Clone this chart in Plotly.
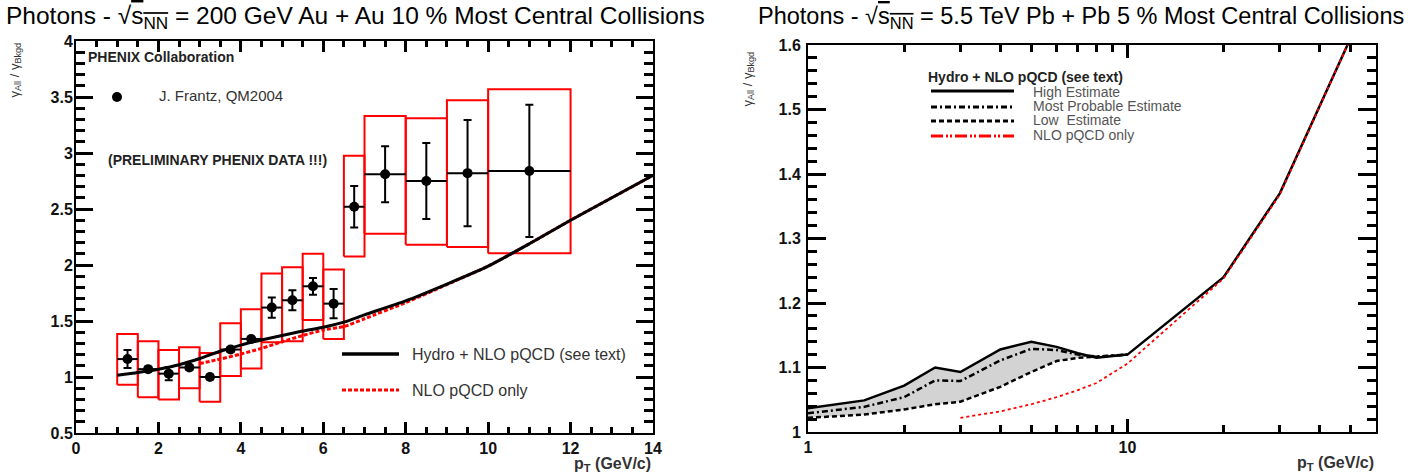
import math
import plotly.graph_objects as go

W, H = 1422, 474

# ---------------- Left panel: RHIC Au+Au, PHENIX preliminary ----------------
bin_lo = [1.0, 1.5, 2.0, 2.5, 3.0, 3.5, 4.0, 4.5, 5.0, 5.5, 6.0, 6.5, 7.0, 8.0, 9.0, 10.0]
bin_hi = [1.5, 2.0, 2.5, 3.0, 3.5, 4.0, 4.5, 5.0, 5.5, 6.0, 6.5, 7.0, 8.0, 9.0, 10.0, 12.0]
pt_data = [1.25, 1.75, 2.25, 2.75, 3.25, 3.75, 4.25, 4.75, 5.25, 5.75, 6.25, 6.75, 7.5, 8.5, 9.5, 11.0]
ratio_data = [1.16, 1.07, 1.03, 1.085, 1.0, 1.245, 1.34, 1.62, 1.685, 1.81, 1.655, 2.52, 2.81, 2.75, 2.82, 2.84]
stat_err = [0.08, 0.02, 0.06, 0.02, 0.02, 0.02, 0.02, 0.09, 0.09, 0.075, 0.13, 0.185, 0.25, 0.34, 0.475, 0.59]
sys_lo = [0.93, 0.82, 0.80, 0.90, 0.78, 1.01, 1.075, 1.31, 1.32, 1.51, 1.34, 2.075, 2.28, 2.18, 2.16, 2.105]
sys_hi = [1.385, 1.32, 1.24, 1.265, 1.215, 1.48, 1.605, 1.925, 1.98, 2.10, 1.96, 2.975, 3.33, 3.31, 3.47, 3.57]

hydro_pt = [1, 1.5, 2, 2.5, 3, 3.5, 4, 4.5, 5, 5.5, 6, 6.5, 7, 8, 9, 10, 11, 12, 13, 14]
hydro_r = [1.015, 1.04, 1.07, 1.11, 1.165, 1.23, 1.285, 1.33, 1.37, 1.41, 1.445, 1.49, 1.555, 1.68, 1.83, 1.99, 2.19, 2.40, 2.60, 2.80]
nlo_pt = [3, 3.5, 4, 4.5, 5, 5.5, 6, 6.5, 7, 8, 9, 10, 11, 12, 13, 14]
nlo_r = [1.12, 1.16, 1.205, 1.255, 1.315, 1.37, 1.42, 1.45, 1.52, 1.665, 1.825, 1.99, 2.19, 2.40, 2.60, 2.80]

# ---------------- Right panel: LHC Pb+Pb prediction ----------------
band_pt = [1, 1.5, 2, 2.5, 3, 4, 5, 6, 7, 8, 10]
high_band = [1.037, 1.049, 1.072, 1.100, 1.093, 1.128, 1.140, 1.132, 1.122, 1.115, 1.120]
prob_band = [1.029, 1.039, 1.054, 1.080, 1.079, 1.111, 1.129, 1.127, 1.120, 1.117, 1.120]
low_band = [1.022, 1.027, 1.035, 1.043, 1.047, 1.070, 1.093, 1.110, 1.115, 1.117, 1.120]
tail_pt = [20, 30, 50]
high_tail = [1.240, 1.370, 1.611]
nlo_lhc_pt = [3, 4, 5, 6, 7, 8, 10, 20, 30, 50]
nlo_lhc_r = [1.022, 1.032, 1.043, 1.054, 1.065, 1.076, 1.106, 1.238, 1.368, 1.611]

FONT = "Liberation Sans, Arial, Helvetica, sans-serif"
NARROW = "Liberation Sans Narrow, Arial Narrow, Liberation Sans, Arial, sans-serif"

fig = go.Figure()

# systematic-uncertainty boxes
bx, by = [], []
for lo, hi, ylo, yhi in zip(bin_lo, bin_hi, sys_lo, sys_hi):
    bx += [lo, hi, hi, lo, lo, None]
    by += [ylo, ylo, yhi, yhi, ylo, None]
fig.add_trace(go.Scatter(x=bx, y=by, mode="lines", line=dict(color="red", width=2),
                         xaxis="x", yaxis="y", hoverinfo="skip"))

# theory curves (left)
fig.add_trace(go.Scatter(x=nlo_pt, y=nlo_r, mode="lines", line=dict(color="red", width=3, dash="4px,2px", shape="spline", smoothing=0.6),
                         xaxis="x", yaxis="y"))
fig.add_trace(go.Scatter(x=hydro_pt, y=hydro_r, mode="lines", line=dict(color="black", width=3, shape="spline", smoothing=0.6),
                         xaxis="x", yaxis="y"))

# data points
half_w = [(h - l) / 2 for l, h in zip(bin_lo, bin_hi)]
fig.add_trace(go.Scatter(x=pt_data, y=ratio_data, mode="markers",
                         marker=dict(color="black", size=10, symbol="circle"),
                         error_x=dict(type="data", array=half_w, color="black", thickness=2, width=0),
                         error_y=dict(type="data", array=stat_err, color="black", thickness=2, width=4),
                         xaxis="x", yaxis="y"))

# right panel: band and curves
poly_x = band_pt + band_pt[::-1]
poly_y = high_band + low_band[::-1]
fig.add_trace(go.Scatter(x=poly_x, y=poly_y, mode="lines", fill="toself", fillcolor="#d3d3d3",
                         line=dict(width=0), xaxis="x2", yaxis="y2", hoverinfo="skip"))
fig.add_trace(go.Scatter(x=band_pt, y=low_band, mode="lines", line=dict(color="black", width=2.5, dash="5px,3px"),
                         xaxis="x2", yaxis="y2"))
fig.add_trace(go.Scatter(x=band_pt, y=prob_band, mode="lines", line=dict(color="black", width=2.5, dash="6px,3px,2px,3px"),
                         xaxis="x2", yaxis="y2"))
fig.add_trace(go.Scatter(x=band_pt + tail_pt, y=high_band + high_tail, mode="lines", line=dict(color="black", width=2.5),
                         xaxis="x2", yaxis="y2"))
fig.add_trace(go.Scatter(x=nlo_lhc_pt, y=nlo_lhc_r, mode="lines", line=dict(color="red", width=1.8, dash="dot"),
                         xaxis="x2", yaxis="y2"))

tickfont = dict(family=FONT, size=16, color="#111", weight="bold")
common = dict(showline=True, linecolor="black", linewidth=2, mirror="allticks", ticks="inside",
              tickcolor="black", tickwidth=3, showgrid=False, zeroline=False, tickfont=tickfont,
              automargin=False)
minor_style = dict(ticks="inside", tickwidth=2.5, tickcolor="black", showgrid=False)

fig.update_layout(
    width=W, height=H, paper_bgcolor="white", plot_bgcolor="rgba(0,0,0,0)",
    margin=dict(l=0, r=0, t=0, b=0, pad=0, autoexpand=False), showlegend=False,
    xaxis=dict(domain=[76 / W, 653 / W], anchor="y", range=[0, 14], tick0=0, dtick=2, ticklen=11,
               minor=dict(dtick=0.5, ticklen=6, **minor_style), **common),
    yaxis=dict(domain=[1 - 433 / H, 1 - 41 / H], anchor="x", range=[0.5, 4], tick0=0.5, dtick=0.5, ticklen=17,
               ticklabelstandoff=-2,
               minor=dict(dtick=0.1, ticklen=9, **minor_style), **common),
    xaxis2=dict(domain=[808 / W, 1376 / W], anchor="y2", type="log", range=[0, math.log10(60)],
                tickmode="array", tickvals=[1, 10], ticktext=["1", "10"], ticklen=13,
                minor=dict(tickmode="array", tickvals=[2, 3, 4, 5, 6, 7, 8, 9, 20, 30, 40, 50],
                           ticklen=7, **minor_style), **common),
    yaxis2=dict(domain=[1 - 432 / H, 1 - 45 / H], anchor="x2", range=[1, 1.6], tick0=1, dtick=0.1, ticklen=18,
                ticklabelstandoff=2,
                minor=dict(dtick=0.02, ticklen=9, **minor_style), **common),
)

ann = []
def text(x, y, s, size=15, color="black", family=FONT, xanchor="left", yanchor="middle", angle=0, weight="normal"):
    ann.append(dict(x=x / W, y=1 - y / H, xref="paper", yref="paper", text=s, showarrow=False,
                    xanchor=xanchor, yanchor=yanchor, textangle=angle,
                    font=dict(size=size, color=color, family=family, weight=weight)))

sq = "√<span style='text-decoration:overline'>s<sub>NN</sub></span>"
text(355, 17, "Photons - " + sq + " = 200 GeV Au + Au 10 % Most Central Collisions", size=24.5, xanchor="center")
text(1081, 17, "Photons - " + sq + " = 5.5 TeV Pb + Pb 5 % Most Central Collisions", size=23.5, xanchor="center")

text(86, 57, "PHENIX Collaboration", size=14, color="#222", weight="bold")
text(157, 96, "J. Frantz, QM2004", size=15, color="#333")
text(106, 160, "(PRELIMINARY PHENIX DATA !!!)", size=14, color="#222", family=NARROW, weight="bold")
text(410, 354, "Hydro + NLO pQCD (see text)", size=16, color="#333")
text(410, 390, "NLO pQCD only", size=16, color="#333")

text(15, 41, "γ<sub>All</sub> / γ<sub>Bkgd</sub>", size=13, color="#333", xanchor="center", yanchor="top", angle=-90)
text(748, 50, "γ<sub>All</sub> / γ<sub>Bkgd</sub>", size=13, color="#333", xanchor="center", yanchor="top", angle=-90)
text(653, 464, "p<sub>T</sub> (GeV/c)", size=16, color="#333", xanchor="right", weight="bold")
text(1376, 463, "p<sub>T</sub> (GeV/c)", size=16, color="#333", xanchor="right", weight="bold")

text(926, 77, "Hydro + NLO pQCD (see text)", size=14, color="#222", weight="bold")
text(1031, 92, "High Estimate", size=14, color="#555")
text(1031, 106, "Most Probable Estimate", size=14, color="#555")
text(1031, 120, "Low  Estimate", size=14, color="#555")
text(1031, 135, "NLO pQCD only", size=14, color="#555")
fig.update_layout(annotations=ann)

shapes = []
def seg(x0, x1, y, color, width, dash):
    shapes.append(dict(type="line", xref="paper", yref="paper", x0=x0 / W, x1=x1 / W, y0=1 - y / H, y1=1 - y / H,
                       line=dict(color=color, width=width, dash=dash)))
seg(342, 399, 354, "black", 3.5, "solid")
seg(342, 399, 390, "red", 3, "4px,2px")
seg(931, 1014, 91, "black", 3, "solid")
seg(931, 1014, 107, "black", 3, "6px,3px,2px,3px")
seg(931, 1014, 121, "black", 3, "5px,3px")
seg(931, 1014, 136, "red", 3, "12px,3px,2px,2px,2px,3px")
shapes.append(dict(type="circle", xref="paper", yref="paper", x0=112 / W, x1=122 / W, y0=1 - 102 / H, y1=1 - 92 / H,
                   fillcolor="black", line=dict(color="black", width=0)))
fig.update_layout(shapes=shapes)

fig.write_html("out.html", config={"displayModeBar": False},
               post_script="document.body.style.margin='0';document.body.style.overflow='hidden';")
